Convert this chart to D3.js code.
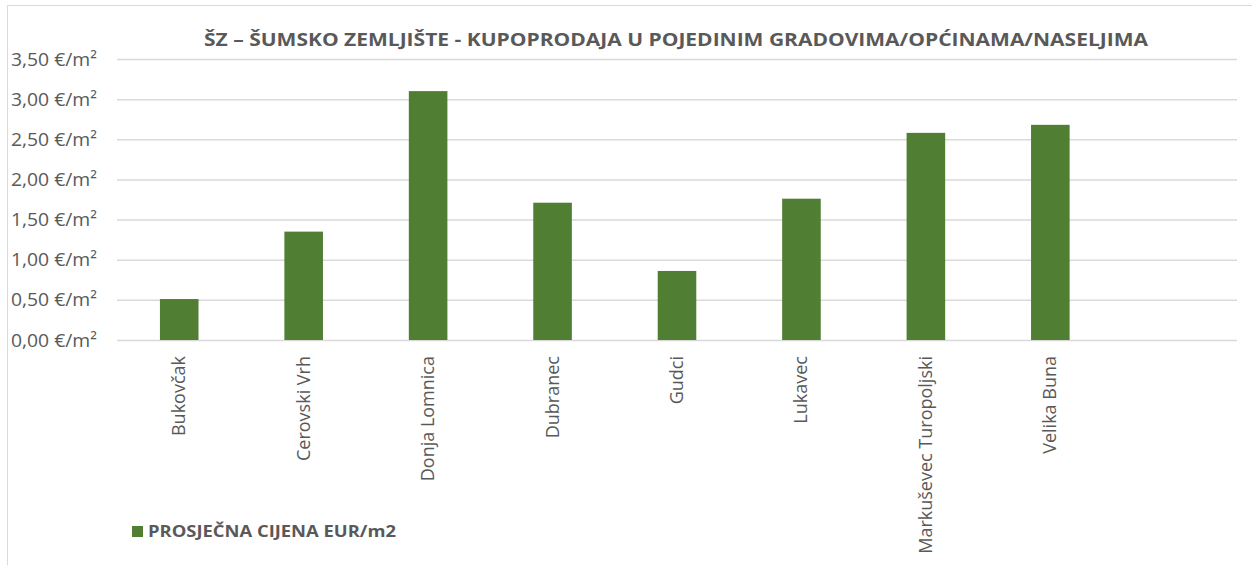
<!DOCTYPE html>
<html>
<head>
<meta charset="utf-8">
<script src="https://cdn.jsdelivr.net/npm/d3@7"></script>
<style>
  body { margin: 0; background: #fff; }
  text { font-family: "Open Sans", "Noto Sans", sans-serif; fill: #595959; }
</style>
</head>
<body>
<div id="chart"></div>
<script>
const TITLE = "ŠZ – ŠUMSKO ZEMLJIŠTE - KUPOPRODAJA  U POJEDINIM GRADOVIMA/OPĆINAMA/NASELJIMA";
const SERIES_NAME = "PROSJEČNA CIJENA EUR/m2";
// last slot is empty in the source chart
const categories = ["Bukovčak", "Cerovski Vrh", "Donja Lomnica", "Dubranec", "Gudci",
    "Lukavec", "Markuševec Turopoljski", "Velika Buna", ""];
const prices = [0.51, 1.35, 3.10, 1.71, 0.86, 1.76, 2.58, 2.68, null];
const yTicks = [0, 0.5, 1, 1.5, 2, 2.5, 3, 3.5];

const W = 1252, H = 565;
const margin = { top: 59, left: 117, right: 15, bottom: 225 };
const BAR = "#507e32";
const GRID = "#d9d9d9";

const svg = d3.select("#chart").append("svg")
    .attr("width", W)
    .attr("height", H);

// chart frame
svg.append("rect")
    .attr("x", 7.5).attr("y", 5.5)
    .attr("width", W + 20).attr("height", H + 20)
    .attr("fill", "none")
    .attr("stroke", GRID);

const x = d3.scaleBand()
    .domain(categories.map((d, i) => i))
    .range([margin.left, W - margin.right])
    .paddingInner(0.69)
    .paddingOuter(0.345);

const y = d3.scaleLinear()
    .domain([0, 3.5])
    .range([H - margin.bottom, margin.top]);

const fmt = v => d3.format(".2f")(v).replace(".", ",") + " €/m²";

// gridlines + y labels
const yAxis = svg.append("g")
    .attr("transform", `translate(${margin.left},0)`)
    .call(d3.axisLeft(y)
        .tickValues(yTicks)
        .tickFormat(fmt)
        .tickSize(-(W - margin.right - margin.left))
        .tickPadding(20));
yAxis.select(".domain").remove();
yAxis.selectAll(".tick line").attr("stroke", GRID).attr("stroke-width", 1.5);
yAxis.selectAll(".tick text")
    .attr("font-size", 19)
    .style("font-family", "Open Sans")
    .attr("fill", "#595959")
    .attr("textLength", 86)
    .attr("lengthAdjust", "spacingAndGlyphs");

// bars
svg.append("g")
    .selectAll("rect")
    .data(prices.map((v, i) => ({ i, v })).filter(d => d.v != null))
    .enter()
    .append("rect")
    .attr("x", d => x(d.i))
    .attr("width", x.bandwidth())
    .attr("y", d => y(d.v))
    .attr("height", d => y(0) - y(d.v))
    .attr("fill", BAR);

// category labels, rotated
svg.append("g")
    .selectAll("text")
    .data(categories)
    .enter()
    .append("text")
    .attr("transform", (d, i) =>
        `translate(${x(i) + x.bandwidth() / 2 + 6},${y(0) + 16}) rotate(-90)`)
    .attr("text-anchor", "end")
    .attr("font-size", 18)
    .text(d => d);

// title
svg.append("text")
    .attr("x", 676)
    .attr("y", 46)
    .attr("text-anchor", "middle")
    .attr("font-size", 18)
    .attr("font-weight", "bold")
    .attr("textLength", 944)
    .attr("lengthAdjust", "spacingAndGlyphs")
    .text(TITLE);

// legend
const legend = svg.append("g").attr("transform", "translate(132,526)");
legend.append("rect")
    .attr("width", 11).attr("height", 11)
    .attr("fill", BAR);
legend.append("text")
    .attr("x", 16)
    .attr("y", 11)
    .attr("font-size", 16)
    .attr("font-weight", "bold")
    .attr("textLength", 248)
    .attr("lengthAdjust", "spacingAndGlyphs")
    .text(SERIES_NAME);
</script>
</body>
</html>
